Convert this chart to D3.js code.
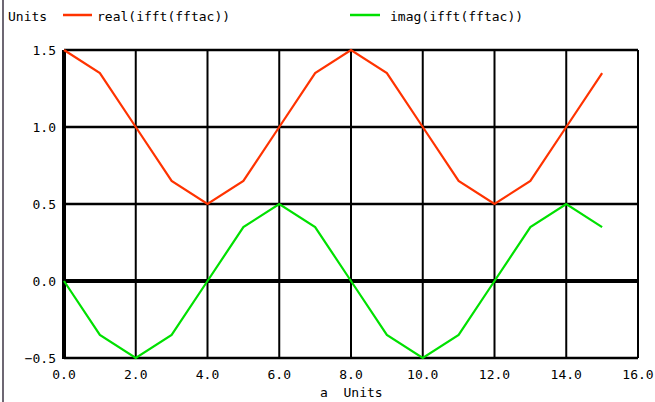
<!DOCTYPE html>
<html>
<head>
<meta charset="utf-8">
<script src="https://cdn.jsdelivr.net/npm/d3@7"></script>
<style>
  body { margin: 0; background: #fff; }
  text { font-family: "DejaVu Sans Mono", monospace; font-size: 13px; fill: #000; }
</style>
</head>
<body>
<svg width="655" height="402"></svg>
<script>
// data
var xs = d3.range(16); // 0..15
var realVals = [1.5, 1.35, 1.0, 0.65, 0.5, 0.65, 1.0, 1.35, 1.5, 1.35, 1.0, 0.65, 0.5, 0.65, 1.0, 1.35];
var imagVals = [0, -0.35, -0.5, -0.35, 0, 0.35, 0.5, 0.35, 0, -0.35, -0.5, -0.35, 0, 0.35, 0.5, 0.35];
var xTicks = [0, 2, 4, 6, 8, 10, 12, 14, 16];
var yTicks = [-0.5, 0, 0.5, 1.0, 1.5];

var svg = d3.select("svg");
var margin = {left: 64, right: 17, top: 50, bottom: 44};

var x = d3.scaleLinear().domain([0, 16]).range([64, 638]);
var y = d3.scaleLinear().domain([-0.5, 1.5]).range([358, 50]);

// window border on the left
svg.append("line").attr("x1", 3).attr("x2", 3).attr("y1", 0).attr("y2", 402)
  .attr("stroke", "#3c3444").attr("stroke-width", 1.5);

// grid
var g = svg.append("g");
g.selectAll(".vg").data(xTicks.slice(1)).enter().append("line")
  .attr("x1", function(d) { return x(d); }).attr("x2", function(d) { return x(d); })
  .attr("y1", y(1.5)).attr("y2", y(-0.5))
  .attr("stroke", "#000").attr("stroke-width", 2);
g.selectAll(".hg").data(yTicks).enter().append("line")
  .attr("x1", x(0)).attr("x2", x(16))
  .attr("y1", function(d) { return y(d); }).attr("y2", function(d) { return y(d); })
  .attr("stroke", "#000").attr("stroke-width", function(d) { return d === 0 ? 4 : 2.5; });
// thick left axis
g.append("line").attr("x1", x(0)).attr("x2", x(0)).attr("y1", y(1.5)).attr("y2", y(-0.5) + 1)
  .attr("stroke", "#000").attr("stroke-width", 4);

// tick labels
svg.selectAll(".yl").data(yTicks).enter().append("text")
  .attr("x", 56).attr("y", function(d) { return y(d); })
  .attr("dy", "0.35em").attr("text-anchor", "end")
  .text(function(d) { return d3.format(".1f")(d); });
svg.selectAll(".xl").data(xTicks).enter().append("text")
  .attr("x", function(d) { return x(d); }).attr("y", 374)
  .attr("dy", "0.35em").attr("text-anchor", "middle")
  .text(function(d) { return d3.format(".1f")(d); });
svg.append("text").attr("x", 320).attr("y", 392).attr("dy", "0.35em")
  .attr("xml:space", "preserve").text("a  Units");

// lines
var line = d3.line().x(function(d) { return x(d[0]); }).y(function(d) { return y(d[1]); });
svg.append("path").datum(xs.map(function(d, i) { return [d, realVals[i]]; }))
  .attr("d", line).attr("fill", "none").attr("stroke", "#ff3300").attr("stroke-width", 2.2);
svg.append("path").datum(xs.map(function(d, i) { return [d, imagVals[i]]; }))
  .attr("d", line).attr("fill", "none").attr("stroke", "#00e000").attr("stroke-width", 2.2);

// legend
svg.append("text").attr("x", 8).attr("y", 16).attr("dy", "0.35em").text("Units");
svg.append("line").attr("x1", 63).attr("x2", 92).attr("y1", 15).attr("y2", 15)
  .attr("stroke", "#ff3300").attr("stroke-width", 2.5);
svg.append("text").attr("x", 97).attr("y", 16).attr("dy", "0.35em").text("real(ifft(fftac))");
svg.append("line").attr("x1", 350).attr("x2", 380).attr("y1", 15).attr("y2", 15)
  .attr("stroke", "#00e000").attr("stroke-width", 2.5);
svg.append("text").attr("x", 390).attr("y", 16).attr("dy", "0.35em").text("imag(ifft(fftac))");
</script>
</body>
</html>
